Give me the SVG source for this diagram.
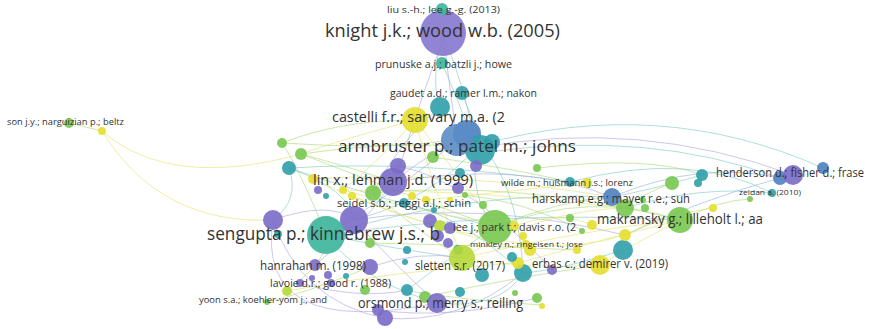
<svg xmlns="http://www.w3.org/2000/svg" width="871" height="329" viewBox="0 0 871 329">
<style>
text{font-family:"Open Sans","Noto Sans",sans-serif;fill:#333;}
.e{fill:none;stroke-width:1;opacity:0.6}
.ey{stroke:#e2e36a}.eg{stroke:#a9d873}.et{stroke:#7ccac2}.ep{stroke:#aaa3dd}.eb{stroke:#8fb1d9}
.P{fill:#7a6cc8}.B{fill:#4f7fc0}.T{fill:#2f9ea8}.TG{fill:#3bb59a}.G{fill:#78c850}.YG{fill:#b6d838}.Y{fill:#e4df2e}
circle{opacity:0.9}
</style>
<rect width="871" height="329" fill="#fff"/>
<g id="connectors">
<path class="e ey" d="M102,131 Q170,190 301,154"/>
<path class="e ey" d="M102,131 Q160,225 273,220"/>
<path class="e eg" d="M69,123 L102,131"/>
<path class="e ep" d="M443,34 Q450,90 457,140"/>
<path class="e et" d="M443,34 Q466,90 476,148"/>
<path class="e et" d="M443,34 Q430,80 440,107"/>
<path class="e et" d="M442,63 Q458,100 476,148"/>
<path class="e et" d="M462,93 Q472,120 488,152"/>
<path class="e ep" d="M443,40 Q420,100 400,166"/>
<path class="e et" d="M480,145 Q660,95 823,168"/>
<path class="e ep" d="M476,148 Q640,118 793,175"/>
<path class="e et" d="M488,152 Q650,130 780,178"/>
<path class="e eb" d="M612,197 Q700,160 780,178"/>
<path class="e et" d="M570,182 Q690,150 772,193"/>
<path class="e eg" d="M537,168 Q650,155 702,175"/>
<path class="e et" d="M625,208 Q700,185 772,193"/>
<path class="e eg" d="M680,220 Q720,200 750,199"/>
<path class="e eb" d="M780,178 Q700,200 625,235"/>
<path class="e eg" d="M301,154 Q400,140 476,148"/>
<path class="e eg" d="M282,143 Q380,150 457,140"/>
<path class="e et" d="M289,168 Q380,200 495,227"/>
<path class="e ey" d="M313,179 Q450,170 612,197"/>
<path class="e ey" d="M343,190 Q480,190 625,208"/>
<path class="e et" d="M326,235 Q470,190 612,197"/>
<path class="e eg" d="M373,193 Q520,180 680,220"/>
<path class="e ep" d="M393,182 Q520,160 612,197"/>
<path class="e ep" d="M354,220 Q480,200 625,235"/>
<path class="e et" d="M326,235 Q500,210 680,220"/>
<path class="e eg" d="M495,227 Q590,190 680,220"/>
<path class="e ey" d="M462,258 Q580,230 680,220"/>
<path class="e ey" d="M518,263 Q600,240 680,220"/>
<path class="e ey" d="M600,265 Q640,240 680,220"/>
<path class="e eg" d="M495,227 Q560,200 612,197"/>
<path class="e ey" d="M462,258 Q540,210 625,208"/>
<path class="e eg" d="M433,157 Q520,170 570,182"/>
<path class="e ey" d="M415,120 Q430,180 462,258"/>
<path class="e ey" d="M415,120 Q380,160 343,190"/>
<path class="e ey" d="M415,120 Q470,190 495,227"/>
<path class="e ey" d="M415,120 Q340,140 301,154"/>
<path class="e ep" d="M273,220 Q300,300 383,318"/>
<path class="e ep" d="M273,220 Q330,200 354,220"/>
<path class="e et" d="M326,235 Q360,280 437,303"/>
<path class="e et" d="M326,235 Q400,250 462,258"/>
<path class="e ep" d="M354,220 Q400,270 437,303"/>
<path class="e ep" d="M315,265 Q360,230 393,182"/>
<path class="e ep" d="M370,267 Q420,250 462,258"/>
<path class="e eg" d="M287,290 Q330,260 326,235"/>
<path class="e eg" d="M267,302 Q300,295 370,267"/>
<path class="e ep" d="M300,283 Q360,300 407,290"/>
<path class="e ep" d="M378,310 Q450,320 537,298"/>
<path class="e et" d="M437,303 Q500,310 523,273"/>
<path class="e et" d="M407,290 Q460,250 495,227"/>
<path class="e eg" d="M425,297 Q500,280 600,265"/>
<path class="e ey" d="M462,258 Q530,270 600,265"/>
<path class="e eg" d="M403,290 Q460,300 542,305"/>
<path class="e eg" d="M282,143 Q300,170 326,235"/>
<path class="e et" d="M289,168 Q300,200 273,220"/>
<path class="e eg" d="M301,154 Q360,170 393,182"/>
<path class="e et" d="M289,168 Q350,190 354,220"/>
<path class="e et" d="M476,148 Q470,200 495,227"/>
<path class="e ep" d="M457,140 Q420,160 393,182"/>
<path class="e et" d="M476,148 Q430,200 354,220"/>
<path class="e eb" d="M457,140 Q400,190 326,235"/>
<path class="e et" d="M488,152 Q520,200 523,273"/>
<path class="e ep" d="M273,220 Q255,340 437,303"/>
<path class="e ey" d="M343,190 Q430,215 514,226"/>
<path class="e ey" d="M313,179 Q420,230 526,244"/>
<path class="e ey" d="M514,226 Q560,210 592,225"/>
<path class="e ey" d="M526,244 Q580,250 625,235"/>
<path class="e eg" d="M373,193 Q430,240 462,258"/>
<path class="e et" d="M404,203 Q460,215 523,273"/>
<path class="e ep" d="M398,166 Q470,180 552,270"/>
<path class="e et" d="M440,107 Q400,140 373,193"/>
<path class="e eg" d="M282,143 Q340,120 415,120"/>
<path class="e et" d="M623,250 Q560,270 523,273"/>
<path class="e ey" d="M713,208 Q660,215 625,235"/>
<path class="e et" d="M702,175 Q650,190 612,197"/>
<path class="e eg" d="M672,183 Q640,195 625,208"/>
<path class="e ep" d="M383,318 Q460,325 523,273"/>
<path class="e eg" d="M465,195 Q520,200 582,230"/>
<path class="e ey" d="M352,196 Q450,235 530,250"/>
<path class="e eg" d="M301,154 Q420,200 495,227"/>
<path class="e ey" d="M426,200 Q520,190 587,183"/>
<path class="e eg" d="M370,243 Q470,245 577,250"/>
<path class="e ey" d="M287,291 Q400,270 518,263"/>
<path class="e et" d="M289,168 Q420,160 570,182"/>
</g>
<g id="other-nodes">
<circle class="G" cx="282" cy="143" r="5"/>
<circle class="G" cx="301" cy="154" r="6"/>
<circle class="T" cx="289" cy="168" r="7"/>
<circle class="Y" cx="102" cy="131" r="4"/>
<circle class="Y" cx="313" cy="179" r="5"/>
<circle class="P" cx="318" cy="190" r="4"/>
<circle class="T" cx="326" cy="196" r="3"/>
<circle class="Y" cx="343" cy="190" r="4"/>
<circle class="Y" cx="352" cy="196" r="4"/>
<circle class="G" cx="373" cy="193" r="8"/>
<circle class="P" cx="398" cy="166" r="8"/>
<circle class="Y" cx="412" cy="196" r="4"/>
<circle class="Y" cx="426" cy="200" r="4"/>
<circle class="T" cx="434" cy="210" r="3"/>
<circle class="G" cx="433" cy="157" r="6"/>
<circle class="T" cx="460" cy="173" r="5"/>
<circle class="P" cx="458" cy="188" r="6"/>
<circle class="Y" cx="450" cy="200" r="3"/>
<circle class="G" cx="465" cy="195" r="3"/>
<circle class="G" cx="537" cy="168" r="4"/>
<circle class="Y" cx="587" cy="183" r="5"/>
<circle class="T" cx="440" cy="107" r="10"/>
<circle class="P" cx="354" cy="220" r="14"/>
<circle class="P" cx="273" cy="220" r="10"/>
<circle class="T" cx="278" cy="234" r="4"/>
<circle class="P" cx="430" cy="221" r="7"/>
<circle class="YG" cx="440" cy="226" r="6"/>
<circle class="P" cx="450" cy="228" r="6"/>
<circle class="P" cx="438" cy="236" r="6"/>
<circle class="P" cx="448" cy="243" r="5"/>
<circle class="G" cx="370" cy="243" r="5"/>
<circle class="T" cx="458" cy="250" r="5"/>
<circle class="T" cx="407" cy="250" r="4"/>
<circle class="P" cx="370" cy="267" r="8"/>
<circle class="T" cx="405" cy="262" r="3"/>
<circle class="T" cx="346" cy="276" r="3"/>
<circle class="P" cx="328" cy="275" r="4"/>
<circle class="P" cx="312" cy="278" r="3"/>
<circle class="P" cx="300" cy="283" r="4"/>
<circle class="YG" cx="287" cy="291" r="5"/>
<circle class="G" cx="365" cy="290" r="5"/>
<circle class="T" cx="407" cy="290" r="6"/>
<circle class="G" cx="425" cy="297" r="6"/>
<circle class="P" cx="378" cy="310" r="6"/>
<circle class="P" cx="385" cy="318" r="8"/>
<circle class="T" cx="460" cy="292" r="5"/>
<circle class="T" cx="482" cy="275" r="7"/>
<circle class="G" cx="495" cy="227" r="17"/>
<circle class="T" cx="523" cy="273" r="9"/>
<circle class="Y" cx="518" cy="263" r="6"/>
<circle class="T" cx="512" cy="257" r="5"/>
<circle class="G" cx="515" cy="293" r="3"/>
<circle class="G" cx="537" cy="298" r="5"/>
<circle class="Y" cx="542" cy="306" r="3"/>
<circle class="P" cx="552" cy="270" r="5"/>
<circle class="T" cx="623" cy="250" r="10"/>
<circle class="Y" cx="625" cy="235" r="6"/>
<circle class="Y" cx="592" cy="225" r="5"/>
<circle class="G" cx="570" cy="218" r="4"/>
<circle class="Y" cx="523" cy="236" r="4"/>
<circle class="Y" cx="530" cy="250" r="6"/>
<circle class="Y" cx="577" cy="250" r="4"/>
<circle class="G" cx="582" cy="231" r="3"/>
<circle class="G" cx="625" cy="208" r="9"/>
<circle class="G" cx="645" cy="208" r="4"/>
<circle class="G" cx="643" cy="200" r="3"/>
<circle class="G" cx="672" cy="183" r="7"/>
<circle class="T" cx="702" cy="175" r="6"/>
<circle class="T" cx="698" cy="183" r="4"/>
<circle class="Y" cx="713" cy="208" r="4"/>
<circle class="G" cx="483" cy="205" r="4"/>
<circle class="B" cx="780" cy="178" r="7"/>
<circle class="B" cx="823" cy="168" r="6"/>
<circle class="G" cx="750" cy="199" r="3"/>
<circle class="B" cx="467" cy="134" r="14"/>
<circle class="T" cx="480" cy="150" r="15"/>
<circle class="P" cx="476" cy="166" r="6"/>
<circle class="T" cx="492" cy="142" r="8"/>
</g>
<g id="n-knight"><circle fill="#8577d0" cx="443" cy="33" r="23"/><text x="325" y="37" font-size="18" textLength="235" lengthAdjust="spacingAndGlyphs">knight j.k.; wood w.b. (2005)</text></g>
<g id="n-liu"><circle class="TG" cx="442" cy="9" r="6"/><text x="387" y="13" font-size="9" textLength="113" lengthAdjust="spacingAndGlyphs">liu s.-h.; lee g.-g. (2013)</text></g>
<g id="n-prunuske"><circle class="TG" cx="442" cy="63" r="6"/><text x="375" y="68" font-size="10" textLength="137" lengthAdjust="spacingAndGlyphs">prunuske a.j.; batzli j.; howe</text></g>
<g id="n-gaudet"><circle class="T" cx="462" cy="93" r="7"/><text x="390" y="97" font-size="10" textLength="147" lengthAdjust="spacingAndGlyphs">gaudet a.d.; ramer l.m.; nakon</text></g>
<g id="n-armbruster"><circle fill="#5b8cc6" cx="457" cy="140" r="16"/><text x="338" y="152" font-size="17" textLength="238" lengthAdjust="spacingAndGlyphs">armbruster p.; patel m.; johns</text></g>
<g id="n-castelli"><circle class="Y" cx="415" cy="120" r="13"/><text x="332" y="122" font-size="14" textLength="173" lengthAdjust="spacingAndGlyphs">castelli f.r.; sarvary m.a. (2</text></g>
<g id="n-son"><circle class="G" cx="69" cy="123" r="5"/><text x="7" y="125" font-size="8.5" textLength="117" lengthAdjust="spacingAndGlyphs">son j.y.; narguizian p.; beltz</text></g>
<g id="n-lin"><circle class="P" cx="393" cy="182" r="14"/><text x="313" y="185" font-size="14" textLength="160" lengthAdjust="spacingAndGlyphs">lin x.; lehman j.d. (1999)</text></g>
<g id="n-wilde"><circle class="T" cx="570" cy="182" r="5"/><text x="501" y="186" font-size="8.5" textLength="132" lengthAdjust="spacingAndGlyphs">wilde m.; hußmann j.s.; lorenz</text></g>
<g id="n-henderson"><circle class="P" cx="793" cy="175" r="10"/><text x="716" y="177" font-size="12" textLength="148" lengthAdjust="spacingAndGlyphs">henderson d.; fisher d.; frase</text></g>
<g id="n-zeidan"><circle class="T" cx="772" cy="193" r="4"/><text x="739" y="195" font-size="8" textLength="62" lengthAdjust="spacingAndGlyphs">zeidan a. (2010)</text></g>
<g id="n-harskamp"><circle class="B" cx="612" cy="197" r="9"/><text x="532" y="203" font-size="12" textLength="158" lengthAdjust="spacingAndGlyphs">harskamp e.g.; mayer r.e.; suh</text></g>
<g id="n-seidel"><circle class="T" cx="404" cy="203" r="5"/><text x="337" y="207" font-size="10.5" textLength="134" lengthAdjust="spacingAndGlyphs">seidel s.b.; reggi a.l.; schin</text></g>
<g id="n-makransky"><circle class="G" cx="680" cy="220" r="13"/><text x="597" y="224" font-size="15" textLength="166" lengthAdjust="spacingAndGlyphs">makransky g.; lilleholt l.; aa</text></g>
<g id="n-sengupta"><circle class="TG" cx="326" cy="235" r="19"/><text x="207" y="240" font-size="19" textLength="233" lengthAdjust="spacingAndGlyphs">sengupta p.; kinnebrew j.s.; b</text></g>
<g id="n-lee"><circle class="Y" cx="514" cy="226" r="5"/><text x="453" y="231" font-size="10.5" textLength="123" lengthAdjust="spacingAndGlyphs">lee j.; park t.; davis r.o. (2</text></g>
<g id="n-minkley"><circle class="Y" cx="526" cy="244" r="4"/><text x="470" y="247" font-size="8" textLength="113" lengthAdjust="spacingAndGlyphs">minkley n.; ringeisen t.; jose</text></g>
<g id="n-hanrahan"><circle class="P" cx="315" cy="265" r="6"/><text x="260" y="270" font-size="12" textLength="106" lengthAdjust="spacingAndGlyphs">hanrahan m. (1998)</text></g>
<g id="n-sletten"><circle class="YG" cx="462" cy="258" r="13"/><text x="415" y="270" font-size="12" textLength="90" lengthAdjust="spacingAndGlyphs">sletten s.r. (2017)</text></g>
<g id="n-erbas"><circle class="Y" cx="600" cy="265" r="10"/><text x="532" y="268" font-size="12" textLength="136" lengthAdjust="spacingAndGlyphs">erbas c.; demirer v. (2019)</text></g>
<g id="n-lavoie"><circle class="P" cx="331" cy="283" r="4"/><text x="270" y="287" font-size="10.5" textLength="121" lengthAdjust="spacingAndGlyphs">lavoie d.r.; good r. (1988)</text></g>
<g id="n-yoon"><circle class="G" cx="267" cy="302" r="3"/><text x="199" y="303" font-size="8.5" textLength="128" lengthAdjust="spacingAndGlyphs">yoon s.a.; koehler-yom j.; and</text></g>
<g id="n-orsmond"><circle class="P" cx="437" cy="303" r="10"/><text x="358" y="308" font-size="14" textLength="165" lengthAdjust="spacingAndGlyphs">orsmond p.; merry s.; reiling</text></g>
</svg>
